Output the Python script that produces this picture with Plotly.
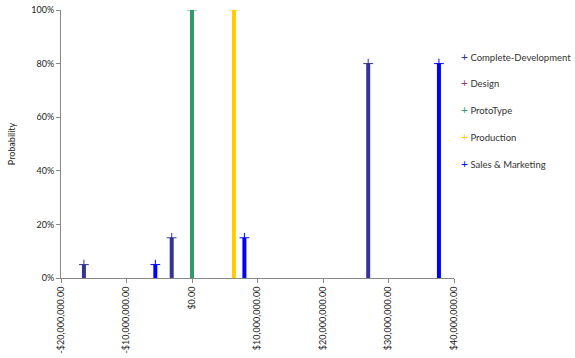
import plotly.graph_objects as go

series_names = ["Complete-Development", "Design", "ProtoType", "Production", "Sales & Marketing"]
series_colors = ["#333399", "#993366", "#339966", "#FFCC00", "#0000FF"]

cd_x = [-16500000, -3100000, 26900000]
cd_y = [0.05, 0.15, 0.80]
design_x = [None]
design_y = [None]
proto_x = [0]
proto_y = [1.0]
prod_x = [6400000]
prod_y = [1.0]
sales_x = [-5600000, 8000000, 37700000]
sales_y = [0.05, 0.15, 0.80]

x_tickvals = [-20000000, -10000000, 0, 10000000, 20000000, 30000000, 40000000]
x_ticktext = ["-$20,000,000.00", "-$10,000,000.00", "$0.00", "$10,000,000.00",
              "$20,000,000.00", "$30,000,000.00", "$40,000,000.00"]
y_tickvals = [0, 0.2, 0.4, 0.6, 0.8, 1.0]

data = [(cd_x, cd_y), (design_x, design_y), (proto_x, proto_y), (prod_x, prod_y), (sales_x, sales_y)]

fig = go.Figure()
for i, (name, color) in enumerate(zip(series_names, series_colors)):
    xs, ys = data[i]
    minus = [v if v is not None else 0 for v in ys]
    fig.add_trace(go.Scatter(
        x=xs, y=ys, name=name, mode="markers", showlegend=False,
        marker=dict(symbol="cross-thin", size=7, color=color, line=dict(color=color, width=1)),
        error_y=dict(type="data", symmetric=False, array=[0] * len(ys), arrayminus=minus,
                     color=color, thickness=4, width=0),
    ))

# legend drawn as annotations (marker glyph + name)
for i, (name, color) in enumerate(zip(series_names, series_colors)):
    fig.add_annotation(
        xref="paper", yref="paper", x=(459 - 61) / (454 - 61), y=(278 - (56 + i * 26.8)) / 268,
        xanchor="left", yanchor="middle", showarrow=False,
        text=f"<span style='color:{color};font-size:12px'>+</span> {name}",
        font=dict(size=9.5, color="#333333"),
    )

font = "Lato, 'Liberation Sans', sans-serif"
fig.update_layout(
    width=575, height=358,
    margin=dict(l=61, r=121, t=10, b=80, autoexpand=False),
    paper_bgcolor="white", plot_bgcolor="white",
    font=dict(family=font, size=9, color="#222222"),
    showlegend=False,
    xaxis=dict(range=[-20000000, 40000000], tickvals=x_tickvals, ticktext=x_ticktext,
               tickangle=-90, showgrid=False, zeroline=False, showline=True,
               linecolor="#888888", linewidth=1, ticks="outside", ticklen=4,
               tickcolor="#888888", tickfont=dict(size=9), automargin=False),
    yaxis=dict(range=[0, 1.0], tickvals=y_tickvals, tickformat=".0%",
               showgrid=False, zeroline=False, showline=True,
               linecolor="#888888", linewidth=1, ticks="outside", ticklen=4,
               tickcolor="#888888", tickfont=dict(size=9), automargin=False,
               title=dict(text="Probability", font=dict(size=9), standoff=14)),
)

fig.write_html("out.html", config={"displayModeBar": False},
               post_script="document.body.style.margin='0px';document.body.style.overflow='hidden';")
